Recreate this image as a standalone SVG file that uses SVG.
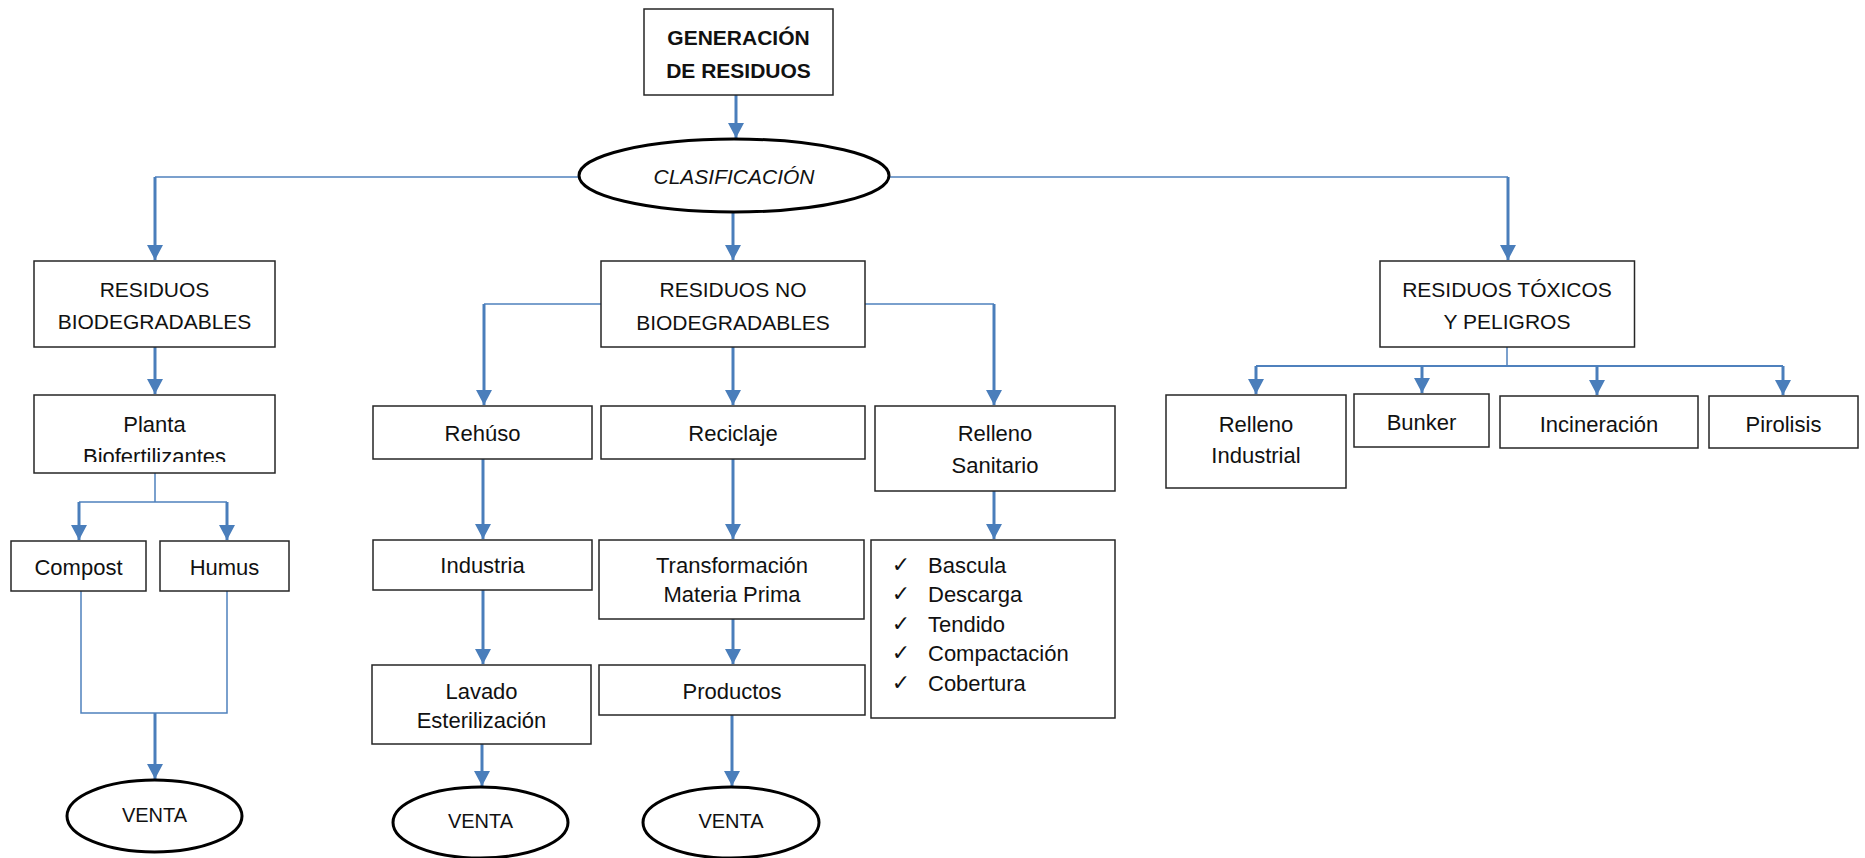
<svg xmlns="http://www.w3.org/2000/svg" width="1865" height="858" viewBox="0 0 1865 858">
<style>
.box{fill:#fff;stroke:#262626;stroke-width:1.5}
.ell{fill:#fff;stroke:#000;stroke-width:3}
.t{font-family:"Liberation Sans",Arial,sans-serif;font-size:22px;fill:#111;text-anchor:middle}
.u{font-size:21px}
.b{font-weight:bold}
.i{font-style:italic}
.l{text-anchor:start}
.ck{font-family:"DejaVu Sans",sans-serif;font-size:22px;fill:#111;text-anchor:middle}
.thk{fill:none;stroke:#4a7ebb;stroke-width:3}
.thn{fill:none;stroke:#4f81bd;stroke-width:1.5}
</style>
<defs>
<marker id="ah" markerUnits="userSpaceOnUse" markerWidth="16" markerHeight="16" viewBox="0 0 16 16" refX="15" refY="8" orient="auto">
<path d="M0,0 L15,8 L0,16 z" fill="#4a7ebb"/>
</marker>
<clipPath id="clipPlanta"><rect x="34" y="395" width="241" height="67"/></clipPath>
</defs>
<rect width="1865" height="858" fill="#fff"/>

<g id="connectors">
<path class="thk" d="M736,95 V138" marker-end="url(#ah)"/>
<path class="thn" d="M579,177 H155"/>
<path class="thk" d="M155,177 V260" marker-end="url(#ah)"/>
<path class="thk" d="M733,212 V260" marker-end="url(#ah)"/>
<path class="thn" d="M889,177 H1508"/>
<path class="thk" d="M1508,177 V260" marker-end="url(#ah)"/>
<path class="thk" d="M155,347 V394" marker-end="url(#ah)"/>
<path class="thn" d="M155,473 V502 M79,502 H227"/>
<path class="thk" d="M79,502 V540" marker-end="url(#ah)"/>
<path class="thk" d="M227,502 V540" marker-end="url(#ah)"/>
<path class="thn" d="M81,591 V713 H227 V591"/>
<path class="thk" d="M155,713 V779" marker-end="url(#ah)"/>
<path class="thn" d="M601,304 H484 M865,304 H994"/>
<path class="thk" d="M484,304 V405" marker-end="url(#ah)"/>
<path class="thk" d="M994,304 V405" marker-end="url(#ah)"/>
<path class="thk" d="M733,347 V405" marker-end="url(#ah)"/>
<path class="thk" d="M483,459 V539" marker-end="url(#ah)"/>
<path class="thk" d="M733,459 V539" marker-end="url(#ah)"/>
<path class="thk" d="M994,491 V539" marker-end="url(#ah)"/>
<path class="thk" d="M483,590 V664" marker-end="url(#ah)"/>
<path class="thk" d="M733,619 V664" marker-end="url(#ah)"/>
<path class="thk" d="M482,744 V786" marker-end="url(#ah)"/>
<path class="thk" d="M732,715 V786" marker-end="url(#ah)"/>
<path class="thn" d="M1507,347 V366"/>
<path class="thn" style="stroke-width:2" d="M1256,366 H1783"/>
<path class="thk" d="M1256,366 V394" marker-end="url(#ah)"/>
<path class="thk" d="M1422,366 V393" marker-end="url(#ah)"/>
<path class="thk" d="M1597,366 V395" marker-end="url(#ah)"/>
<path class="thk" d="M1783,366 V395" marker-end="url(#ah)"/>
</g>

<g id="generacion">
<rect class="box" x="644" y="9" width="189" height="86"/>
<text class="t u b" x="738.5" y="45">GENERACIÓN</text>
<text class="t u b" x="738.5" y="78">DE RESIDUOS</text>
</g>
<g id="clasificacion">
<ellipse class="ell" cx="734" cy="175.5" rx="155" ry="36.5"/>
<text class="t u i" x="734" y="184">CLASIFICACIÓN</text>
</g>

<g id="biodegradables">
<rect class="box" x="34" y="261" width="241" height="86"/>
<text class="t u" x="154.5" y="297">RESIDUOS</text>
<text class="t u" x="154.5" y="329">BIODEGRADABLES</text>
</g>
<g id="planta">
<rect class="box" x="34" y="395" width="241" height="78"/>
<text class="t" x="154.5" y="432">Planta</text>
<text class="t" x="154.5" y="464" clip-path="url(#clipPlanta)">Biofertilizantes</text>
</g>
<g id="compost">
<rect class="box" x="11" y="541" width="135" height="50"/>
<text class="t" x="78.5" y="575">Compost</text>
</g>
<g id="humus">
<rect class="box" x="160" y="541" width="129" height="50"/>
<text class="t" x="224.5" y="575">Humus</text>
</g>
<g id="venta1">
<ellipse class="ell" cx="154.5" cy="816" rx="87.5" ry="36"/>
<text class="t" style="font-size:20px" x="154.5" y="822">VENTA</text>
</g>

<g id="nobiodegradables">
<rect class="box" x="601" y="261" width="264" height="86"/>
<text class="t u" x="733" y="297">RESIDUOS NO</text>
<text class="t u" x="733" y="330">BIODEGRADABLES</text>
</g>
<g id="rehuso">
<rect class="box" x="373" y="406" width="219" height="53"/>
<text class="t" x="482.5" y="441">Rehúso</text>
</g>
<g id="reciclaje">
<rect class="box" x="601" y="406" width="264" height="53"/>
<text class="t" x="733" y="441">Reciclaje</text>
</g>
<g id="rellenosanitario">
<rect class="box" x="875" y="406" width="240" height="85"/>
<text class="t" x="995" y="441">Relleno</text>
<text class="t" x="995" y="473">Sanitario</text>
</g>
<g id="industria">
<rect class="box" x="373" y="540" width="219" height="50"/>
<text class="t" x="482.5" y="573">Industria</text>
</g>
<g id="transformacion">
<rect class="box" x="599" y="540" width="265" height="79"/>
<text class="t" x="732" y="573">Transformación</text>
<text class="t" x="732" y="602">Materia Prima</text>
</g>
<g id="checklist">
<rect class="box" x="871" y="540" width="244" height="178"/>
<text class="ck" x="901" y="572">✓</text>
<text class="ck" x="901" y="601">✓</text>
<text class="ck" x="901" y="631">✓</text>
<text class="ck" x="901" y="660">✓</text>
<text class="ck" x="901" y="690">✓</text>
<text class="t l" x="928" y="573">Bascula</text>
<text class="t l" x="928" y="602">Descarga</text>
<text class="t l" x="928" y="632">Tendido</text>
<text class="t l" x="928" y="661">Compactación</text>
<text class="t l" x="928" y="691">Cobertura</text>
</g>
<g id="lavado">
<rect class="box" x="372" y="665" width="219" height="79"/>
<text class="t" x="481.5" y="699">Lavado</text>
<text class="t" x="481.5" y="728">Esterilización</text>
</g>
<g id="productos">
<rect class="box" x="599" y="665" width="266" height="50"/>
<text class="t" x="732" y="699">Productos</text>
</g>
<g id="venta2">
<ellipse class="ell" cx="480.5" cy="822.5" rx="87.5" ry="35.5"/>
<text class="t" style="font-size:20px" x="480.5" y="828">VENTA</text>
</g>
<g id="venta3">
<ellipse class="ell" cx="731" cy="822.5" rx="88" ry="35.5"/>
<text class="t" style="font-size:20px" x="731" y="828">VENTA</text>
</g>

<g id="toxicos">
<rect class="box" x="1380" y="261" width="254.5" height="86"/>
<text class="t u" x="1507" y="297">RESIDUOS TÓXICOS</text>
<text class="t u" x="1507" y="329">Y PELIGROS</text>
</g>
<g id="rellenoindustrial">
<rect class="box" x="1166" y="395" width="180" height="93"/>
<text class="t" x="1256" y="432">Relleno</text>
<text class="t" x="1256" y="463">Industrial</text>
</g>
<g id="bunker">
<rect class="box" x="1354" y="394" width="135" height="53"/>
<text class="t" x="1421.5" y="430">Bunker</text>
</g>
<g id="incineracion">
<rect class="box" x="1500" y="396" width="198" height="52"/>
<text class="t" x="1599" y="432">Incineración</text>
</g>
<g id="pirolisis">
<rect class="box" x="1709" y="396" width="149" height="52"/>
<text class="t" x="1783.5" y="432">Pirolisis</text>
</g>
</svg>
